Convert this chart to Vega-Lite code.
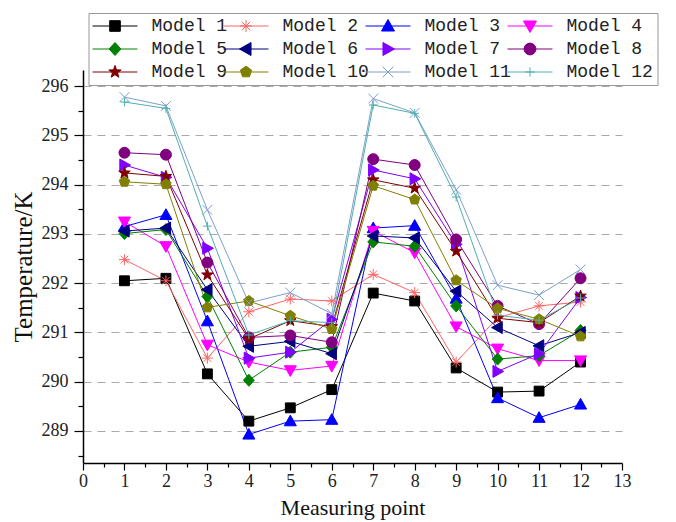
{
  "$schema": "https://vega.github.io/schema/vega-lite/v6.json",
  "width": 539,
  "height": 393,
  "autosize": {"type": "none"},
  "padding": {"left": 83, "top": 70, "right": 54, "bottom": 59},
  "background": "white",
  "config": {"view": {"stroke": null}},
  "data": {"values": [
    {"m":"Model 1","x":1,"t":292.05},{"m":"Model 1","x":2,"t":292.10},{"m":"Model 1","x":3,"t":290.16},{"m":"Model 1","x":4,"t":289.20},{"m":"Model 1","x":5,"t":289.47},{"m":"Model 1","x":6,"t":289.84},{"m":"Model 1","x":7,"t":291.80},{"m":"Model 1","x":8,"t":291.64},{"m":"Model 1","x":9,"t":290.28},{"m":"Model 1","x":10,"t":289.79},{"m":"Model 1","x":11,"t":289.81},{"m":"Model 1","x":12,"t":290.40},
    {"m":"Model 2","x":1,"t":292.48},{"m":"Model 2","x":2,"t":292.05},{"m":"Model 2","x":3,"t":290.48},{"m":"Model 2","x":4,"t":291.42},{"m":"Model 2","x":5,"t":291.68},{"m":"Model 2","x":6,"t":291.64},{"m":"Model 2","x":7,"t":292.18},{"m":"Model 2","x":8,"t":291.81},{"m":"Model 2","x":9,"t":290.40},{"m":"Model 2","x":10,"t":291.30},{"m":"Model 2","x":11,"t":291.54},{"m":"Model 2","x":12,"t":291.62},
    {"m":"Model 3","x":1,"t":293.15},{"m":"Model 3","x":2,"t":293.39},{"m":"Model 3","x":3,"t":291.23},{"m":"Model 3","x":4,"t":288.93},{"m":"Model 3","x":5,"t":289.20},{"m":"Model 3","x":6,"t":289.23},{"m":"Model 3","x":7,"t":293.12},{"m":"Model 3","x":8,"t":293.17},{"m":"Model 3","x":9,"t":291.69},{"m":"Model 3","x":10,"t":289.67},{"m":"Model 3","x":11,"t":289.27},{"m":"Model 3","x":12,"t":289.54},
    {"m":"Model 4","x":1,"t":293.25},{"m":"Model 4","x":2,"t":292.75},{"m":"Model 4","x":3,"t":290.75},{"m":"Model 4","x":4,"t":290.40},{"m":"Model 4","x":5,"t":290.23},{"m":"Model 4","x":6,"t":290.32},{"m":"Model 4","x":7,"t":293.06},{"m":"Model 4","x":8,"t":292.62},{"m":"Model 4","x":9,"t":291.12},{"m":"Model 4","x":10,"t":290.67},{"m":"Model 4","x":11,"t":290.43},{"m":"Model 4","x":12,"t":290.43},
    {"m":"Model 5","x":1,"t":293.01},{"m":"Model 5","x":2,"t":293.09},{"m":"Model 5","x":3,"t":291.73},{"m":"Model 5","x":4,"t":290.03},{"m":"Model 5","x":5,"t":290.60},{"m":"Model 5","x":6,"t":290.70},{"m":"Model 5","x":7,"t":292.84},{"m":"Model 5","x":8,"t":292.75},{"m":"Model 5","x":9,"t":291.54},{"m":"Model 5","x":10,"t":290.46},{"m":"Model 5","x":11,"t":290.53},{"m":"Model 5","x":12,"t":291.04},
    {"m":"Model 6","x":1,"t":293.06},{"m":"Model 6","x":2,"t":293.12},{"m":"Model 6","x":3,"t":291.87},{"m":"Model 6","x":4,"t":290.72},{"m":"Model 6","x":5,"t":290.82},{"m":"Model 6","x":6,"t":290.57},{"m":"Model 6","x":7,"t":292.96},{"m":"Model 6","x":8,"t":292.92},{"m":"Model 6","x":9,"t":291.84},{"m":"Model 6","x":10,"t":291.10},{"m":"Model 6","x":11,"t":290.73},{"m":"Model 6","x":12,"t":291.00},
    {"m":"Model 7","x":1,"t":294.40},{"m":"Model 7","x":2,"t":294.15},{"m":"Model 7","x":3,"t":292.71},{"m":"Model 7","x":4,"t":290.48},{"m":"Model 7","x":5,"t":290.60},{"m":"Model 7","x":6,"t":291.27},{"m":"Model 7","x":7,"t":294.30},{"m":"Model 7","x":8,"t":294.12},{"m":"Model 7","x":9,"t":292.79},{"m":"Model 7","x":10,"t":290.21},{"m":"Model 7","x":11,"t":290.57},{"m":"Model 7","x":12,"t":291.71},
    {"m":"Model 8","x":1,"t":294.65},{"m":"Model 8","x":2,"t":294.61},{"m":"Model 8","x":3,"t":292.42},{"m":"Model 8","x":4,"t":290.90},{"m":"Model 8","x":5,"t":290.94},{"m":"Model 8","x":6,"t":290.80},{"m":"Model 8","x":7,"t":294.52},{"m":"Model 8","x":8,"t":294.40},{"m":"Model 8","x":9,"t":292.89},{"m":"Model 8","x":10,"t":291.54},{"m":"Model 8","x":11,"t":291.17},{"m":"Model 8","x":12,"t":292.10},
    {"m":"Model 9","x":1,"t":294.24},{"m":"Model 9","x":2,"t":294.17},{"m":"Model 9","x":3,"t":292.17},{"m":"Model 9","x":4,"t":290.87},{"m":"Model 9","x":5,"t":291.24},{"m":"Model 9","x":6,"t":291.12},{"m":"Model 9","x":7,"t":294.10},{"m":"Model 9","x":8,"t":293.93},{"m":"Model 9","x":9,"t":292.65},{"m":"Model 9","x":10,"t":291.29},{"m":"Model 9","x":11,"t":291.20},{"m":"Model 9","x":12,"t":291.74},
    {"m":"Model 10","x":1,"t":294.06},{"m":"Model 10","x":2,"t":294.01},{"m":"Model 10","x":3,"t":291.51},{"m":"Model 10","x":4,"t":291.64},{"m":"Model 10","x":5,"t":291.34},{"m":"Model 10","x":6,"t":291.07},{"m":"Model 10","x":7,"t":293.98},{"m":"Model 10","x":8,"t":293.70},{"m":"Model 10","x":9,"t":292.06},{"m":"Model 10","x":10,"t":291.49},{"m":"Model 10","x":11,"t":291.27},{"m":"Model 10","x":12,"t":290.92},
    {"m":"Model 11","x":1,"t":295.78},{"m":"Model 11","x":2,"t":295.60},{"m":"Model 11","x":3,"t":293.49},{"m":"Model 11","x":4,"t":291.60},{"m":"Model 11","x":5,"t":291.81},{"m":"Model 11","x":6,"t":291.38},{"m":"Model 11","x":7,"t":295.75},{"m":"Model 11","x":8,"t":295.46},{"m":"Model 11","x":9,"t":293.90},{"m":"Model 11","x":10,"t":291.96},{"m":"Model 11","x":11,"t":291.76},{"m":"Model 11","x":12,"t":292.28},
    {"m":"Model 12","x":1,"t":295.68},{"m":"Model 12","x":2,"t":295.55},{"m":"Model 12","x":3,"t":293.16},{"m":"Model 12","x":4,"t":290.95},{"m":"Model 12","x":5,"t":291.24},{"m":"Model 12","x":6,"t":291.20},{"m":"Model 12","x":7,"t":295.62},{"m":"Model 12","x":8,"t":295.45},{"m":"Model 12","x":9,"t":293.75},{"m":"Model 12","x":10,"t":291.35},{"m":"Model 12","x":11,"t":291.25},{"m":"Model 12","x":12,"t":291.70}
  ]},
  "encoding": {
    "x": {
      "field": "x", "type": "quantitative",
      "scale": {"domain": [0, 13], "nice": false, "zero": false},
      "axis": {
        "title": "Measuring point",
        "values": [0,0.5,1,1.5,2,2.5,3,3.5,4,4.5,5,5.5,6,6.5,7,7.5,8,8.5,9,9.5,10,10.5,11,11.5,12,12.5,13],
        "labelExpr": "datum.value % 1 === 0 ? format(datum.value, 'd') : ''",
        "labelOverlap": false, "labelFlush": false,
        "labelFont": "Liberation Serif", "labelFontSize": 18, "labelColor": "#222222", "labelPadding": 2,
        "titleFont": "Liberation Serif", "titleFontSize": 22, "titleFontWeight": "normal", "titleColor": "#111111", "titlePadding": 7,
        "domainColor": "#000000", "domainWidth": 1.5,
        "tickColor": "#000000", "tickWidth": 1.2,
        "tickSize": {"condition": {"test": "datum.value % 1 === 0", "value": 7}, "value": 4},
        "grid": false
      }
    },
    "y": {
      "field": "t", "type": "quantitative",
      "scale": {"domain": [288.35, 296.33], "nice": false, "zero": false},
      "axis": {
        "title": "Temperature/K",
        "values": [288.5,289,289.5,290,290.5,291,291.5,292,292.5,293,293.5,294,294.5,295,295.5,296],
        "labelExpr": "datum.value % 1 === 0 ? format(datum.value, 'd') : ''",
        "labelOverlap": false, "labelFlush": false,
        "labelFont": "Liberation Serif", "labelFontSize": 18, "labelColor": "#222222", "labelPadding": 6,
        "titleFont": "Liberation Serif", "titleFontSize": 25, "titleFontWeight": "normal", "titleColor": "#111111", "titlePadding": 5,
        "domainColor": "#000000", "domainWidth": 1.5,
        "tickColor": "#000000", "tickWidth": 1.2,
        "tickSize": {"condition": {"test": "datum.value % 1 === 0", "value": 9}, "value": 5},
        "grid": true, "gridColor": "#aaaaaa", "gridWidth": 1.2, "gridDash": [8, 6],
        "gridOpacity": {"condition": {"test": "datum.value % 1 === 0", "value": 1}, "value": 0}
      }
    },
    "stroke": {
      "field": "m", "type": "nominal",
      "scale": {
        "domain": ["Model 1","Model 2","Model 3","Model 4","Model 5","Model 6","Model 7","Model 8","Model 9","Model 10","Model 11","Model 12"],
        "range": ["#000000","#FF6464","#0000FF","#FF00FF","#008000","#000080","#8000FF","#800080","#800000","#808000","#7EA0CC","#4FAFAF"]
      },
      "legend": {
        "orient": "none", "legendX": 5.5, "legendY": -57, "columns": 4, "direction": "horizontal", "title": null,
        "gridAlign": "none",
        "strokeColor": "#999999", "fillColor": "white", "padding": 4,
        "labelFont": "Liberation Mono", "labelFontSize": 18, "labelColor": "#222222", "labelLimit": 300,
        "symbolSize": 140, "labelOffset": 41, "columnPadding": -6, "rowPadding": 5, "symbolStrokeWidth": 1, "symbolOpacity": 1,
        "encode": {
          "symbols": {
            "update": {
              "shape": {"signal": "datum.value === 'Model 1' ? 'M-0.9,-0.9H0.9V0.9H-0.9ZM-3.8,0H3.8' : datum.value === 'Model 2' ? 'M-1,0H1M0,-1V1M-0.7,-0.7L0.7,0.7M-0.7,0.7L0.7,-0.7M-3.8,0H3.8' : datum.value === 'Model 3' ? 'M0,-1.1L1.1,0.85H-1.1ZM-3.8,0H3.8' : datum.value === 'Model 4' ? 'M0,1.1L1.1,-0.85H-1.1ZM-3.8,0H3.8' : datum.value === 'Model 5' ? 'M0,-1.1L1,0L0,1.1L-1,0ZM-3.8,0H3.8' : datum.value === 'Model 6' ? 'M-1.1,0L0.85,-1.1V1.1ZM-3.8,0H3.8' : datum.value === 'Model 7' ? 'M1.1,0L-0.85,-1.1V1.1ZM-3.8,0H3.8' : datum.value === 'Model 8' ? 'M1,0A1,1,0,1,1,-1,0A1,1,0,1,1,1,0ZM-3.8,0H3.8' : datum.value === 'Model 9' ? 'M0,-1.1L0.26,-0.36L1.05,-0.34L0.43,0.14L0.65,0.89L0,0.45L-0.65,0.89L-0.43,0.14L-1.05,-0.34L-0.26,-0.36ZM-3.8,0H3.8' : datum.value === 'Model 10' ? 'M0,-1L0.95,-0.31L0.59,0.81L-0.59,0.81L-0.95,-0.31ZM-3.8,0H3.8' : datum.value === 'Model 11' ? 'M-0.9,-0.9L0.9,0.9M-0.9,0.9L0.9,-0.9M-3.8,0H3.8' : 'M-0.8,0H0.8M0,-0.8V0.8M-3.8,0H3.8'"},
              "x": {"value": 22.5},
              "fill": {"scale": "stroke", "field": "value"},
              "strokeWidth": {"value": 1},
              "opacity": {"value": 1}
            }
          }
        }
      }
    }
  },
  "layer": [
    {"mark": {"type": "line", "strokeWidth": 1}},
    {"transform": [{"filter": "datum.m === 'Model 1'"}], "mark": {"type": "point", "filled": true, "fill": "#000000", "size": 120, "strokeWidth": 1, "opacity": 1, "shape": "M-0.9,-0.9H0.9V0.9H-0.9Z"}},
    {"transform": [{"filter": "datum.m === 'Model 2'"}], "mark": {"type": "point", "filled": true, "fill": "#FF6464", "size": 120, "strokeWidth": 1, "opacity": 1, "shape": "M-1,0H1M0,-1V1M-0.7,-0.7L0.7,0.7M-0.7,0.7L0.7,-0.7"}},
    {"transform": [{"filter": "datum.m === 'Model 3'"}], "mark": {"type": "point", "filled": true, "fill": "#0000FF", "size": 120, "strokeWidth": 1, "opacity": 1, "shape": "M0,-1.1L1.1,0.85H-1.1Z"}},
    {"transform": [{"filter": "datum.m === 'Model 4'"}], "mark": {"type": "point", "filled": true, "fill": "#FF00FF", "size": 120, "strokeWidth": 1, "opacity": 1, "shape": "M0,1.1L1.1,-0.85H-1.1Z"}},
    {"transform": [{"filter": "datum.m === 'Model 5'"}], "mark": {"type": "point", "filled": true, "fill": "#008000", "size": 120, "strokeWidth": 1, "opacity": 1, "shape": "M0,-1.1L1,0L0,1.1L-1,0Z"}},
    {"transform": [{"filter": "datum.m === 'Model 6'"}], "mark": {"type": "point", "filled": true, "fill": "#000080", "size": 120, "strokeWidth": 1, "opacity": 1, "shape": "M-1.1,0L0.85,-1.1V1.1Z"}},
    {"transform": [{"filter": "datum.m === 'Model 7'"}], "mark": {"type": "point", "filled": true, "fill": "#8000FF", "size": 120, "strokeWidth": 1, "opacity": 1, "shape": "M1.1,0L-0.85,-1.1V1.1Z"}},
    {"transform": [{"filter": "datum.m === 'Model 8'"}], "mark": {"type": "point", "filled": true, "fill": "#800080", "size": 120, "strokeWidth": 1, "opacity": 1, "shape": "M1,0A1,1,0,1,1,-1,0A1,1,0,1,1,1,0Z"}},
    {"transform": [{"filter": "datum.m === 'Model 9'"}], "mark": {"type": "point", "filled": true, "fill": "#800000", "size": 120, "strokeWidth": 1, "opacity": 1, "shape": "M0,-1.1L0.26,-0.36L1.05,-0.34L0.43,0.14L0.65,0.89L0,0.45L-0.65,0.89L-0.43,0.14L-1.05,-0.34L-0.26,-0.36Z"}},
    {"transform": [{"filter": "datum.m === 'Model 10'"}], "mark": {"type": "point", "filled": true, "fill": "#808000", "size": 120, "strokeWidth": 1, "opacity": 1, "shape": "M0,-1L0.95,-0.31L0.59,0.81L-0.59,0.81L-0.95,-0.31Z"}},
    {"transform": [{"filter": "datum.m === 'Model 11'"}], "mark": {"type": "point", "filled": true, "fill": "#7EA0CC", "size": 120, "strokeWidth": 1, "opacity": 1, "shape": "M-0.9,-0.9L0.9,0.9M-0.9,0.9L0.9,-0.9"}},
    {"transform": [{"filter": "datum.m === 'Model 12'"}], "mark": {"type": "point", "filled": true, "fill": "#4FAFAF", "size": 120, "strokeWidth": 1, "opacity": 1, "shape": "M-0.8,0H0.8M0,-0.8V0.8"}}
  ]
}
